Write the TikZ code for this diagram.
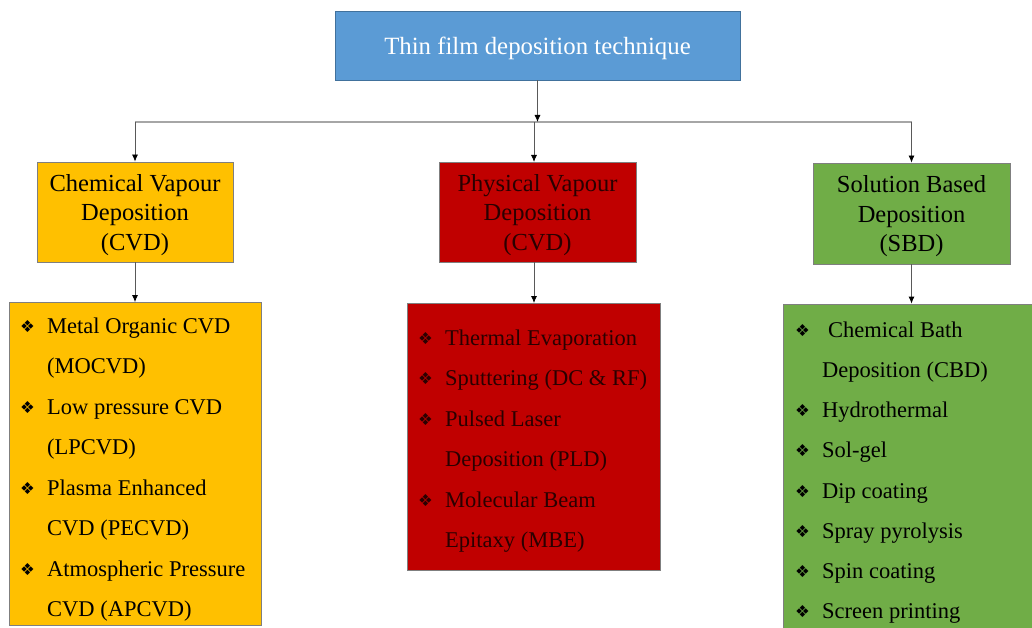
\documentclass[tikz,border=0pt]{standalone}
\usepackage{fontspec}
\setmainfont{Liberation Serif}
\newfontfamily\symfont{DejaVu Sans}
\usetikzlibrary{arrows.meta}
\definecolor{tblue}{HTML}{5B9BD5}
\definecolor{tblueb}{HTML}{41719C}
\definecolor{torange}{HTML}{FFC000}
\definecolor{tred}{HTML}{C00000}
\definecolor{tgreen}{HTML}{70AD47}
\definecolor{tborder}{HTML}{7F7F7F}
\definecolor{busgray}{HTML}{A6A6A6}
\definecolor{arrgray}{HTML}{595959}
\definecolor{redtext}{HTML}{2A0000}
\newcommand{\bul}{{\symfont\fontsize{16.5}{16.5}\selectfont ❖}}
\newcommand{\hstrut}{\rule{0pt}{23pt}}
\tikzset{
  box/.style={draw=tborder, line width=0.8pt, inner sep=0pt, align=center,
    font=\fontsize{24.5}{29.5}\selectfont},
  listbox/.style={draw=tborder, line width=0.8pt, inner sep=0pt},
  itemtxt/.style={anchor=base west, inner sep=0pt, font=\fontsize{22.5}{27}\selectfont},
  bultxt/.style={anchor=base west, inner sep=0pt},
  bus/.style={draw=busgray, line width=1.2pt},
  conn/.style={draw=arrgray, line width=0.8pt, -{Latex[length=7pt,width=6pt,color=black]}},
}
\begin{document}
\begin{tikzpicture}[x=1pt,y=-1pt]
\clip (0,0) rectangle (1032,628);
\fill[white] (0,0) rectangle (1032,628);

% top box
\node[box, draw=tblueb, fill=tblue, text=white, minimum width=405pt, minimum height=69pt,
  font=\fontsize{24.8}{29.5}\selectfont] (title) at (537.5,45.5) {\rule{0pt}{23pt}Thin film deposition technique};

% headers
\node[box, fill=torange, minimum width=196pt, minimum height=100pt] (cvd) at (135,212) {\hstrut Chemical Vapour\\Deposition\\(CVD)};
\node[box, fill=tred, text=redtext, minimum width=197pt, minimum height=100pt] (pvd) at (537.5,212) {\hstrut Physical Vapour\\Deposition\\(CVD)};
\node[box, fill=tgreen, minimum width=197pt, minimum height=101pt] (sbd) at (911.5,213.5) {\hstrut Solution Based\\Deposition\\(SBD)};

% list boxes
\node[listbox, fill=torange, minimum width=252pt, minimum height=322.5pt] (cvdl) at (135,463.75) {};
\node[listbox, fill=tred, minimum width=253pt, minimum height=267pt] (pvdl) at (533.5,436.5) {};
\node[listbox, fill=tgreen, minimum width=252pt, minimum height=340pt] (sbdl) at (909,474) {};

% bus and connectors
\coordinate (bus) at (0,122);
\draw[bus] (cvd.north |- bus) -- (sbd.north |- bus);
\draw[conn] (title.south) -- (title.south |- bus);
\draw[conn] (cvd.north |- bus) -- (cvd.north);
\draw[conn] (534,122) -- (534,162);
\draw[conn] (sbd.north |- bus) -- (sbd.north);
\draw[conn] (cvd.south) -- (cvd.south |- cvdl.north);
\draw[conn] (534,262) -- (534,303);
\draw[conn] (sbd.south) -- (sbd.south |- sbdl.north);

% CVD list
\foreach \i/\y/\b/\t in {1/333/1/Metal Organic CVD, 2/373.5/0/(MOCVD), 3/414/1/Low pressure CVD, 4/454.5/0/(LPCVD), 5/495/1/Plasma Enhanced, 6/535.5/0/CVD (PECVD), 7/576/1/Atmospheric Pressure, 8/616.5/0/CVD (APCVD)}{
  \node[itemtxt] (cvdt\i) at (47,\y) {\t};
  \ifnum\b=1 \node[bultxt] (cvdb\i) at (20,\y-1) {\bul}; \fi
}
% PVD list
\foreach \i/\y/\b/\t in {1/345/1/Thermal Evaporation, 2/385.5/1/Sputtering (DC \& RF), 3/426/1/Pulsed Laser, 4/466.5/0/Deposition (PLD), 5/507/1/Molecular Beam, 6/547.5/0/Epitaxy (MBE)}{
  \node[itemtxt, text=redtext] (pvdt\i) at (445,\y) {\t};
  \ifnum\b=1 \node[bultxt, text=redtext] (pvdb\i) at (418,\y-1) {\bul}; \fi
}
% SBD list
\foreach \i/\y/\b/\x/\t in {1/337/1/828/Chemical Bath, 2/377/0/822/Deposition (CBD), 3/417.5/1/822/Hydrothermal, 4/457.7/1/822/Sol-gel, 5/498/1/822/Dip coating, 6/538/1/822/Spray pyrolysis, 7/578/1/822/Spin coating, 8/618/1/822/Screen printing}{
  \node[itemtxt] (sbdt\i) at (\x,\y) {\t};
  \ifnum\b=1 \node[bultxt] (sbdb\i) at (795,\y-1) {\bul}; \fi
}
\end{tikzpicture}
\end{document}
